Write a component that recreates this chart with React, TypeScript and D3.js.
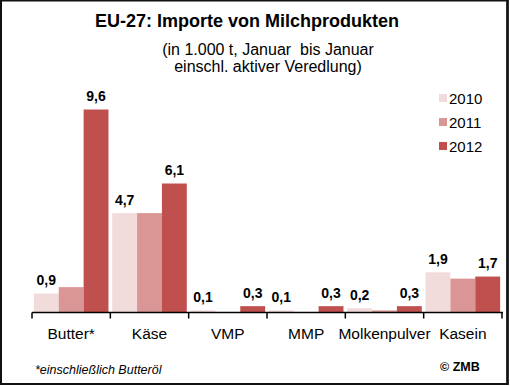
import React from 'react';
import * as d3 from 'd3';

const categories = ['Butter*', 'Käse', 'VMP', 'MMP', 'Molkenpulver', 'Kasein'];
const years = ['2010', '2011', '2012'];
const values2010 = [0.9, 4.7, 0.1, 0.1, 0.2, 1.9];
const values2011 = [1.2, 4.7, 0, 0, 0.1, 1.6];
const values2012 = [9.6, 6.1, 0.3, 0.3, 0.3, 1.7];
// only 2010 and 2012 carry labels in the original
const labeledYears = ['2010', '2012'];

const colors = ['#f2dcdb', '#d99694', '#c0504d'];
const font = "Arial, 'Liberation Sans', sans-serif";

const W = 510;
const H = 386;
const left = 32;
const right = 502;
const base = 312.5;

const App = () => {
  const series = [values2010, values2011, values2012];

  const x0 = d3.scaleBand().domain(categories).range([left, right]).paddingInner(0).paddingOuter(0);
  const x1 = d3
    .scaleBand()
    .domain(years)
    .range([0, x0.bandwidth()])
    .paddingOuter(0.075)
    .paddingInner(0);
  const y = d3.scaleLinear().domain([0, 9.6]).range([base, 109.5]);

  const fmt = (v: number) => v.toFixed(1).replace('.', ',');
  const ticks = [...categories.map(c => x0(c) as number), right];

  return (
    <svg width={W} height={H} style={{ position: 'absolute', left: 0, top: 0, background: '#fff' }}>
      <rect x={1} y={0.5} width={506.5} height={383.5} fill="#fff" stroke="#111" strokeWidth={2} />
      <line x1={507.5} y1={0} x2={507.5} y2={385} stroke="#111" strokeWidth={2.5} />

      <text x={247} y={27} textAnchor="middle" fontFamily={font} fontWeight="bold" fontSize={18}>
        EU-27: Importe von Milchprodukten
      </text>
      <text x={268} y={55} textAnchor="middle" fontFamily={font} fontSize={16} style={{ whiteSpace: 'pre' }}>
        {'(in 1.000 t, Januar  bis Januar'}
      </text>
      <text x={268} y={72} textAnchor="middle" fontFamily={font} fontSize={16}>
        einschl. aktiver Veredlung)
      </text>

      {series.map((vals, si) => (
        <g key={years[si]}>
          {vals.map((v, ci) => {
            const bx = (x0(categories[ci]) as number) + (x1(years[si]) as number);
            return (
              <rect
                key={ci}
                x={bx}
                y={y(v)}
                width={x1.bandwidth()}
                height={base - y(v)}
                fill={colors[si]}
              />
            );
          })}
          {labeledYears.includes(years[si]) &&
            vals.map((v, ci) => {
              const bx = (x0(categories[ci]) as number) + (x1(years[si]) as number) + x1.bandwidth() / 2;
              return (
                <text
                  key={'l' + ci}
                  x={bx}
                  y={y(v) - 8.5}
                  textAnchor="middle"
                  fontFamily={font}
                  fontWeight="bold"
                  fontSize={14}
                >
                  {fmt(v)}
                </text>
              );
            })}
        </g>
      ))}

      <line x1={left} y1={base} x2={right + 1} y2={base} stroke="#000" strokeWidth={1.5} />
      {ticks.map((t, i) => (
        <line key={i} x1={t} y1={base} x2={t} y2={base + 6} stroke="#000" strokeWidth={1.5} />
      ))}
      {categories.map(c => (
        <text
          key={c}
          x={(x0(c) as number) + x0.bandwidth() / 2}
          y={339}
          textAnchor="middle"
          fontFamily={font}
          fontSize={15.5}
        >
          {c}
        </text>
      ))}

      {years.map((yr, i) => (
        <g key={yr} transform={`translate(439, ${98 + i * 24})`}>
          <rect x={0} y={-4} width={8} height={8} fill={colors[i]} />
          <text x={10} y={5.5} fontFamily={font} fontSize={15}>
            {yr}
          </text>
        </g>
      ))}

      <text x={35} y={374} fontFamily={font} fontStyle="italic" fontSize={12.5}>
        *einschließlich Butteröl
      </text>
      <text x={440} y={371} fontFamily={font} fontWeight="bold" fontSize={12.5}>
        © ZMB
      </text>
    </svg>
  );
};

export default App;
